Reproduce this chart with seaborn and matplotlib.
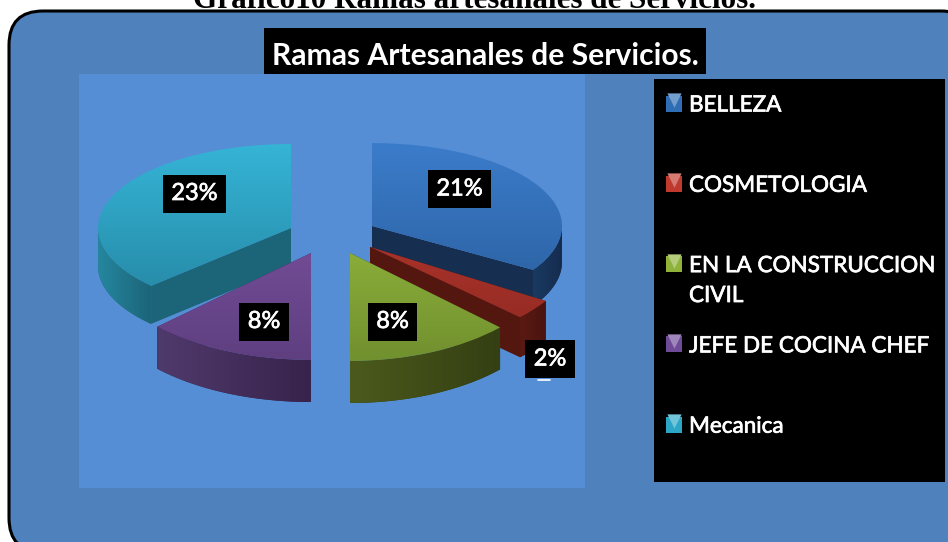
import numpy as np
import matplotlib
matplotlib.use('Agg')
import matplotlib.pyplot as plt
import matplotlib.patheffects as pe
import seaborn as sns
from matplotlib.colors import LinearSegmentedColormap
from matplotlib.patches import FancyBboxPatch, Rectangle
from matplotlib.transforms import Affine2D

categories = ['BELLEZA', 'COSMETOLOGIA', 'EN LA CONSTRUCCION\nCIVIL', 'JEFE DE COCINA CHEF', 'Mecanica']
percent = [21, 2, 8, 8, 23]
title = 'Ramas Artesanales de Servicios.'
caption = 'Grafico10 Ramas artesanales de Servicios.'

# per slice look: top gradient (back to front), side colours
top_colors = [('#3b7cca', '#2b5f9f'), ('#c23a32', '#8f2a22'), ('#a3c944', '#71902f'),
              ('#8459ab', '#5f3f80'), ('#35b4d6', '#2586a3')]
side_colors = [('#1a3a62', '#152c4e'), ('#5a1a12', '#4a1410'), ('#4b5a1c', '#343f13'),
               ('#4f3a6c', '#38234c'), ('#25879f', '#1c6478')]
cut_colors = ['#162e50', '#54170f', '#3c4715', '#38234c', '#1c6478']
legend_colors = ['#2f6db5', '#c0392f', '#8fb33a', '#6f4a97', '#2ba6c6']

# ellipse of every slice on the page: centre x, centre y, radius x, radius y, depth
slice_shape = [(372, 226, 190, 83, 36), (370, 247, 207, 102, 40), (350, 253, 207, 108, 42),
               (311, 253, 212, 107, 42), (291, 228, 193, 84, 38)]
label_pos = [(459.5, 189), (550, 359), (392.5, 321.5), (264, 321.5), (194.5, 193.5)]
draw_order = [0, 4, 1, 3, 2]

sns.set_theme(style='white')
plt.rcParams['font.family'] = ['Lato', 'DejaVu Sans']

fig = plt.figure(figsize=(9.48, 5.42), dpi=100, facecolor='white')
ax = fig.add_axes([0, 0, 1, 1])
heavier = [pe.withStroke(linewidth=0.5, foreground='white')]


def gradient(colors, extent, clip, z, horizontal=False):
    cmap = LinearSegmentedColormap.from_list('g', sns.blend_palette(colors, 32))
    grad = np.linspace(0, 1, 128)
    grad = grad.reshape(1, -1) if horizontal else grad.reshape(-1, 1)
    im = ax.imshow(grad, cmap=cmap, extent=extent, origin='upper', aspect='auto', zorder=z)
    im.set_clip_path(clip)


wedges, _ = ax.pie(percent, startangle=90, counterclock=False, radius=1, center=(0, 0))
ax.set_aspect('auto')

ax.add_patch(FancyBboxPatch((9, 11), 966, 541, boxstyle='round,pad=0,rounding_size=34',
                            facecolor='#4f81bd', edgecolor='black', linewidth=2.2, zorder=0))
ax.add_patch(Rectangle((79, 74), 506, 414, facecolor='#558ed5', edgecolor='none', zorder=0.5))

for n, i in enumerate(draw_order):
    wedge = wedges[i]
    cx, cy, rx, ry, depth = slice_shape[i]
    base = 2 + n * 4
    to_page = Affine2D().scale(rx, -ry).translate(cx, cy)
    wedge.set_transform(to_page + ax.transData)
    wedge.set_facecolor('none')
    wedge.set_edgecolor('none')
    wedge.set_zorder(base + 3)

    # wedge angles in matplotlib terms, turned to page points
    angles = np.radians(np.linspace(wedge.theta1, wedge.theta2, 60))
    arc_x = cx + rx * np.cos(angles)
    arc_y = cy - ry * np.sin(angles)

    # the two cut faces
    for ex, ey in [(arc_x[0], arc_y[0]), (arc_x[-1], arc_y[-1])]:
        ax.fill([cx, ex, ex, cx], [cy, ey, ey + depth, cy + depth], color=cut_colors[i], lw=0, zorder=base)

    # outer band, only the part facing the viewer
    front = arc_y >= cy
    if front.any():
        fx, fy = arc_x[front], arc_y[front]
        band = ax.fill(np.r_[fx, fx[::-1]], np.r_[fy, fy[::-1] + depth], color=side_colors[i][1], lw=0, zorder=base + 1)[0]
        gradient(side_colors[i], (fx.min(), fx.max(), fy.max() + depth, fy.min()), band, base + 1.5, horizontal=True)

    # top face
    gradient(top_colors[i], (cx - rx, cx + rx, cy + ry, cy - ry), wedge, base + 2)

    lx, ly = label_pos[i]
    ax.text(lx, ly, f'{percent[i]}%', color='white', fontsize=17, ha='center', va='center', zorder=50,
            path_effects=heavier, bbox=dict(boxstyle='square,pad=0.36', facecolor='black', edgecolor='none'))

# small leftover dash under the 2% box
ax.plot([538, 550], [380, 380], color='white', lw=1.2, zorder=49)

# title
ax.add_patch(Rectangle((264, 28), 442, 46, facecolor='black', edgecolor='none', zorder=40))
ax.text(485, 56, title, color='white', fontsize=21.6, fontweight='bold', ha='center', va='center', zorder=50)

# legend panel
ax.add_patch(Rectangle((654, 79), 291, 403, facecolor='black', edgecolor='none', zorder=40))
for i, cat in enumerate(categories):
    y = 103.5 + i * 80.3
    ax.scatter(674, y, marker='s', s=125, color=legend_colors[i], linewidths=0, zorder=45)
    ax.scatter(674, y - 3.5, marker='v', s=105, color=sns.blend_palette([legend_colors[i], 'white'], 4)[1], linewidths=0, zorder=46)
    ax.text(689, y - 8, cat, color='white', fontsize=16.2, ha='left', va='top', linespacing=1.62, zorder=50,
            path_effects=heavier)

ax.text(475, 0, caption, color='black', family='Liberation Serif', fontsize=22.4, fontweight='bold', ha='center', va='center', zorder=50)

ax.set_xlim(0, 948)
ax.set_ylim(542, 0)
ax.axis('off')

plt.savefig('out.png', dpi=100)
